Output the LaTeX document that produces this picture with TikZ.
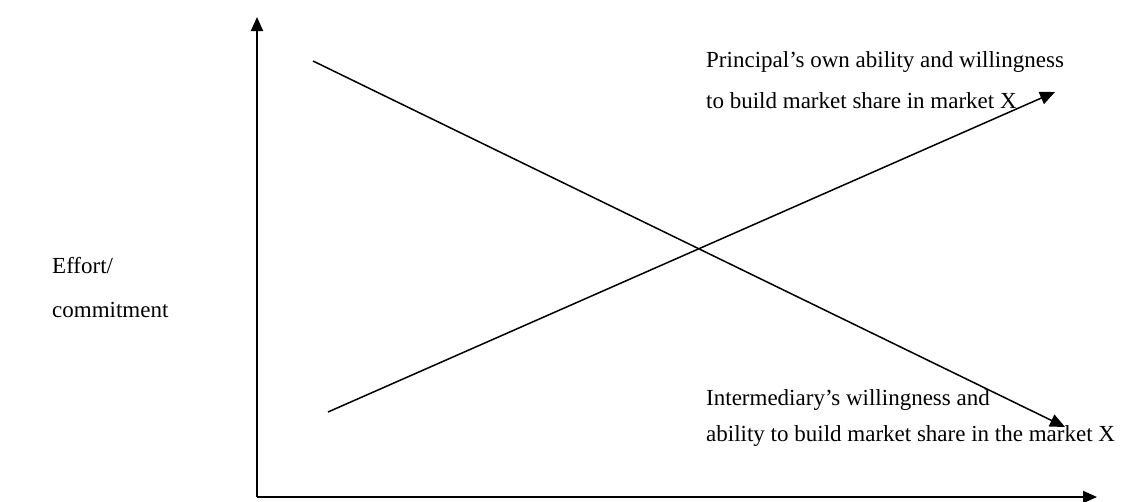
\documentclass[tikz,border=0pt]{standalone}
\usepackage{fontspec}
\setmainfont{Liberation Serif}
\usetikzlibrary{arrows.meta}
\begin{document}
\begin{tikzpicture}[x=1pt,y=-1pt,
  axis/.style={line width=1.9pt,-{Triangle[length=14pt,width=12pt]}},
  curve/.style={line width=1.5pt,-{Triangle[length=15pt,width=13pt]}},
  lbl/.style={inner sep=0pt,anchor=base west,font=\fontsize{23}{27}\selectfont},
  ylbl/.style={inner sep=0pt,anchor=base west,font=\fontsize{23}{27}\selectfont}]
\useasboundingbox (0,0) rectangle (1124,501);
\coordinate (o) at (257,497);
\coordinate (ytip) at (257,17);
\coordinate (xtip) at (1097,497);
\coordinate (d0) at (313,61);
\coordinate (d1) at (1065,427);
\coordinate (a0) at (328,412);
\coordinate (a1) at (1055,92);
\draw[axis] (o) -- (ytip);
\draw[axis] (o) -- (xtip);
\draw[curve] (d0) -- (d1);
\draw[curve] (a0) -- (a1);
\node[ylbl] (e1) at (52,273) {Effort/};
\node[ylbl] (e2) at (52,317) {commitment};
\node[lbl] (p1) at (706,67) {Principal’s own ability and willingness};
\node[lbl] (p2) at (706,108) {to build market share in market X};
\node[lbl] (i1) at (706,405) {Intermediary’s willingness and};
\node[lbl] (i2) at (706,441) {ability to build market share in the market X};
\end{tikzpicture}
\end{document}
